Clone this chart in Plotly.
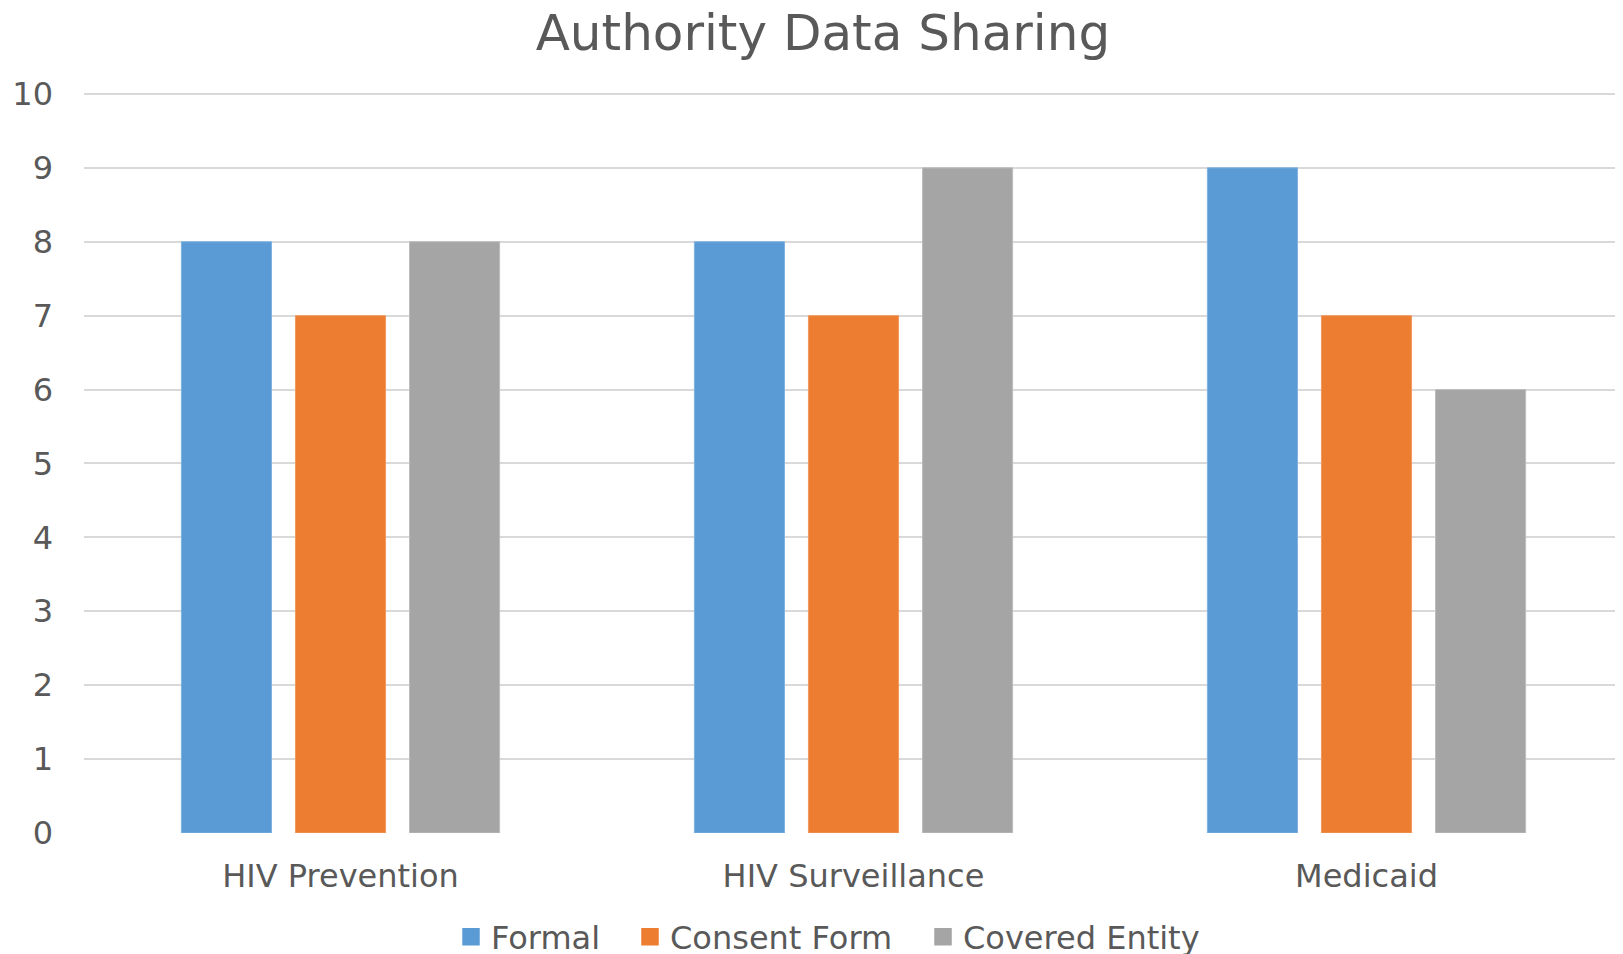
import plotly.graph_objects as go

categories = ["HIV Prevention", "HIV Surveillance", "Medicaid"]
formal = [8, 8, 9]
consent_form = [7, 7, 7]
covered_entity = [8, 9, 6]
y_ticks = [0, 1, 2, 3, 4, 5, 6, 7, 8, 9, 10]

FONT = "DejaVu Sans"
TXT = "#595959"

# page body has an 8px margin, so the figure is sized to fit the window
W, H = 1615, 946
YMAX = 10.04

series = [
    ("Formal", formal, "#5B9BD5", "#7FB2E0", "legend", 470),
    ("Consent Form", consent_form, "#ED7D31", "#F19A60", "legend2", 649),
    ("Covered Entity", covered_entity, "#A5A5A5", "#BDBDBD", "legend3", 942),
]

fig = go.Figure()
for name, vals, col, line, lg, _ in series:
    fig.add_trace(go.Bar(x=categories, y=vals, name=name, showlegend=False,
                         marker=dict(color=col, line=dict(color=line, width=1))))
# legend proxies (larger square swatches like the reference)
for name, vals, col, line, lg, _ in series:
    fig.add_trace(go.Scatter(x=[None], y=[None], mode="markers", name=name, legend=lg,
                             marker=dict(symbol="square", size=16, color=col,
                                         line=dict(color=col, width=1.5)),
                             showlegend=True, hoverinfo="skip"))

legend_common = dict(orientation="h", xanchor="left", xref="container",
                     y=0.018, yanchor="middle", yref="container",
                     font=dict(family=FONT, size=32, color=TXT),
                     itemwidth=30, itemsizing="trace", bgcolor="rgba(0,0,0,0)")
legends = {}
for i, (name, vals, col, line, lg, cx) in enumerate(series):
    legends[lg] = dict(legend_common, x=(cx - 27) / W)

fig.update_layout(
    width=W, height=H,
    paper_bgcolor="white", plot_bgcolor="white",
    margin=dict(l=76, r=0, t=83, b=121, autoexpand=False),
    barmode="group", bargap=0.333, bargroupgap=0.21,
    title=dict(text="Authority Data Sharing", x=0.5046, xanchor="center", xref="container",
               y=0.974, yanchor="middle", yref="container",
               font=dict(family=FONT, size=50, color=TXT)),
    font=dict(family=FONT, color=TXT),
    showlegend=True,
    xaxis=dict(showgrid=False, showline=False, zeroline=False, ticks="",
               tickfont=dict(family=FONT, size=32, color=TXT), ticklabelstandoff=21),
    yaxis=dict(range=[0, YMAX], tickvals=y_ticks, showgrid=True, gridcolor="#D9D9D9",
               gridwidth=2, zeroline=False, showline=False, ticks="",
               tickfont=dict(family=FONT, size=32, color=TXT), ticklabelstandoff=30),
    **legends,
)

fig.write_html("out.html")
